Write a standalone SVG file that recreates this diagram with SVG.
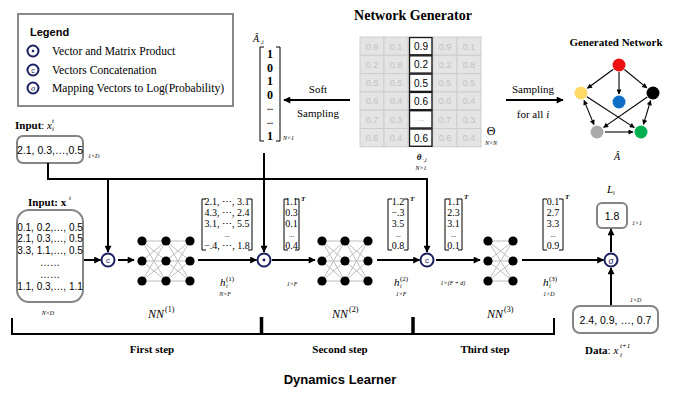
<svg xmlns="http://www.w3.org/2000/svg" width="680" height="396" viewBox="0 0 680 396">
<style>
.serif{font-family:"Liberation Serif","Times New Roman",serif;}
.sans{font-family:"Liberation Sans",Arial,sans-serif;}
.it{font-style:italic;}
.b{font-weight:bold;}
.box{fill:#fff;stroke:#858585;stroke-width:2;}
.ln{fill:none;stroke:#000;stroke-width:2;}
.nnE{stroke:#bdbdbd;stroke-width:1;}
.op{fill:#fff;stroke:#1b2060;stroke-width:2;}
.gcell{fill:#e4e4e4;stroke:#cdcdcd;stroke-width:1;}
.gtxt{fill:#c2c2c2;font-size:9px;}
.wcell{fill:#fff;stroke:#1a1a1a;stroke-width:1.4;}
.brk{fill:none;stroke:#000;stroke-width:1;}
.tiny{font-size:6px;}
.vt{font-size:10px;}
.ge{stroke:#000;stroke-width:1.1;fill:none;}
</style>
<defs>
<marker id="ah" viewBox="0 0 10 10" refX="9" refY="5" markerWidth="8" markerHeight="7" markerUnits="userSpaceOnUse" orient="auto"><path d="M0,0 L10,5 L0,10 z" fill="#000"/></marker>
<marker id="sa" viewBox="0 0 10 10" refX="9" refY="5" markerWidth="6" markerHeight="5" markerUnits="userSpaceOnUse" orient="auto-start-reverse"><path d="M0,0 L10,5 L0,10 z" fill="#000"/></marker>
</defs>

<!-- Legend -->
<g id="legend">
<rect x="18" y="14" width="215" height="92" fill="#fff" stroke="#888" stroke-width="2"/>
<text x="30" y="36" class="sans b" font-size="11">Legend</text>
<circle cx="33" cy="51" r="5.5" class="op"/><circle cx="33" cy="51" r="1.3" fill="#1b2060"/>
<text x="52" y="55" class="serif" font-size="11.6">Vector and Matrix Product</text>
<circle cx="33" cy="70" r="5.5" class="op"/><text x="33" y="72.5" class="sans" font-size="7" text-anchor="middle" fill="#1b2060">c</text>
<text x="52" y="74" class="serif" font-size="11.6">Vectors Concatenation</text>
<circle cx="33" cy="88" r="5.5" class="op"/><text x="33" y="91" class="serif it" font-size="8.5" text-anchor="middle" fill="#1b2060">σ</text>
<text x="52" y="92" class="serif" font-size="11.6">Mapping Vectors to Log(Probability)</text>
</g>

<!-- Network Generator -->
<g id="network-generator">
<text x="413" y="20" class="serif b" font-size="14" text-anchor="middle">Network Generator</text>
<g class="sans">
<rect x="360" y="37" width="24" height="18.3" class="gcell"/><rect x="384" y="37" width="24" height="18.3" class="gcell"/>
<rect x="360" y="55.3" width="24" height="18.3" class="gcell"/><rect x="384" y="55.3" width="24" height="18.3" class="gcell"/>
<rect x="360" y="73.6" width="24" height="18.3" class="gcell"/><rect x="384" y="73.6" width="24" height="18.3" class="gcell"/>
<rect x="360" y="91.9" width="24" height="18.3" class="gcell"/><rect x="384" y="91.9" width="24" height="18.3" class="gcell"/>
<rect x="360" y="110.2" width="24" height="18.3" class="gcell"/><rect x="384" y="110.2" width="24" height="18.3" class="gcell"/>
<rect x="360" y="128.5" width="24" height="18.3" class="gcell"/><rect x="384" y="128.5" width="24" height="18.3" class="gcell"/>
<rect x="433" y="37" width="24" height="18.3" class="gcell"/><rect x="457" y="37" width="24" height="18.3" class="gcell"/>
<rect x="433" y="55.3" width="24" height="18.3" class="gcell"/><rect x="457" y="55.3" width="24" height="18.3" class="gcell"/>
<rect x="433" y="73.6" width="24" height="18.3" class="gcell"/><rect x="457" y="73.6" width="24" height="18.3" class="gcell"/>
<rect x="433" y="91.9" width="24" height="18.3" class="gcell"/><rect x="457" y="91.9" width="24" height="18.3" class="gcell"/>
<rect x="433" y="110.2" width="24" height="18.3" class="gcell"/><rect x="457" y="110.2" width="24" height="18.3" class="gcell"/>
<rect x="433" y="128.5" width="24" height="18.3" class="gcell"/><rect x="457" y="128.5" width="24" height="18.3" class="gcell"/>
<g class="gtxt" text-anchor="middle">
<text x="372" y="49.5">0.9</text><text x="396" y="49.5">0.1</text><text x="445" y="49.5">0.9</text><text x="469" y="49.5">0.1</text>
<text x="372" y="67.8">0.2</text><text x="396" y="67.8">0.8</text><text x="445" y="67.8">0.2</text><text x="469" y="67.8">0.8</text>
<text x="372" y="86.1">0.5</text><text x="396" y="86.1">0.5</text><text x="445" y="86.1">0.5</text><text x="469" y="86.1">0.5</text>
<text x="372" y="104.4">0.6</text><text x="396" y="104.4">0.4</text><text x="445" y="104.4">0.6</text><text x="469" y="104.4">0.4</text>
<text x="372" y="122.7">0.7</text><text x="396" y="122.7">0.3</text><text x="445" y="122.7">0.7</text><text x="469" y="122.7">0.3</text>
<text x="372" y="141">0.6</text><text x="396" y="141">0.4</text><text x="445" y="141">0.6</text><text x="469" y="141">0.4</text>
</g>
<rect x="409.5" y="37.5" width="22.5" height="17.3" class="wcell"/>
<rect x="409.5" y="55.8" width="22.5" height="17.3" class="wcell"/>
<rect x="409.5" y="74.1" width="22.5" height="17.3" class="wcell"/>
<rect x="409.5" y="92.4" width="22.5" height="17.3" class="wcell"/>
<rect x="409.5" y="110.7" width="22.5" height="17.3" class="wcell"/>
<rect x="409.5" y="129" width="22.5" height="17.3" class="wcell"/>
<g font-size="10" text-anchor="middle">
<text x="421" y="50">0.9</text><text x="421" y="68.3">0.2</text><text x="421" y="86.6">0.5</text><text x="421" y="104.9">0.6</text>
<text x="421" y="121" fill="#aaa" font-size="8">...</text><text x="421" y="141.5">0.6</text>
</g>
</g>
<text x="419" y="160" class="serif it b" font-size="9" text-anchor="middle">θ</text><text x="422" y="162" class="serif it" font-size="6">·,i</text>
<text x="421" y="170" class="serif it tiny" text-anchor="middle">N×1</text>
<text x="491" y="135" class="serif" font-size="12" text-anchor="middle">Θ</text>
<text x="491" y="145" class="serif it tiny" text-anchor="middle">N×N</text>
</g>

<!-- A hat column -->
<g id="a-hat-column">
<text x="253" y="42" class="serif it" font-size="10">Â</text><text x="259" y="44" class="serif it" font-size="6">·,i</text>
<path d="M264,47 H260 V141 H264" class="brk"/>
<path d="M276,47 H280 V141 H276" class="brk"/>
<g class="serif b" font-size="12" text-anchor="middle">
<text x="270" y="58">1</text><text x="270" y="72">0</text><text x="270" y="85">1</text><text x="270" y="99">0</text>
<text x="270" y="110" font-size="8">...</text><text x="270" y="124" font-size="8">...</text><text x="270" y="140">1</text>
</g>
<text x="283" y="140" class="serif it tiny">N×1</text>
</g>

<!-- Generated network -->
<g id="generated-network">
<text x="616" y="46" class="serif b" font-size="11" text-anchor="middle">Generated Network</text>
<line x1="613.4" y1="69.2" x2="587.4" y2="88.3" class="ge" marker-end="url(#sa)"/>
<line x1="619" y1="72" x2="619" y2="94" class="ge" marker-end="url(#sa)"/>
<line x1="624.4" y1="69.5" x2="646.8" y2="87.9" class="ge" marker-end="url(#sa)"/>
<line x1="584" y1="100.4" x2="594" y2="124.6" class="ge" marker-start="url(#sa)" marker-end="url(#sa)"/>
<line x1="586.9" y1="96.8" x2="634.3" y2="127.6" class="ge" marker-end="url(#sa)"/>
<line x1="647.3" y1="97" x2="603.6" y2="127.4" class="ge" marker-end="url(#sa)"/>
<line x1="650.6" y1="100.6" x2="643.4" y2="124.4" class="ge" marker-start="url(#sa)" marker-end="url(#sa)"/>
<line x1="605" y1="132" x2="633" y2="132" class="ge" marker-end="url(#sa)"/>
<circle cx="619" cy="65" r="6.5" fill="#ee1111"/>
<circle cx="581" cy="93" r="6.5" fill="#ffd966"/>
<circle cx="619" cy="102" r="6.5" fill="#1070c8"/>
<circle cx="653" cy="93" r="6.5" fill="#000"/>
<circle cx="597" cy="132" r="6.5" fill="#aaaaaa"/>
<circle cx="641" cy="132" r="6.5" fill="#00b050"/>
<text x="617" y="160" class="serif it" font-size="10" text-anchor="middle">Â</text>
</g>

<!-- Inputs -->
<g id="input-xi">
<text x="15" y="129" class="serif b" font-size="11">Input<tspan font-weight="normal">: </tspan><tspan font-weight="normal" font-style="italic">x</tspan></text>
<text x="52" y="131" class="serif it" font-size="7">i</text><text x="52" y="123" class="serif it" font-size="7">t</text>
<rect x="17" y="136" width="66" height="27" rx="6" class="box"/>
<text x="50" y="154" class="sans" font-size="10.5" text-anchor="middle">2.1, 0.3,…,0.5</text>
<text x="88" y="158" class="serif it tiny">1×D</text>
</g>
<g id="input-x">
<text x="28" y="206" class="serif b" font-size="11">Input: x</text><text x="69" y="200" class="serif it" font-size="7">t</text>
<rect x="17" y="210" width="66" height="92" rx="12" class="box"/>
<g class="sans" font-size="10" text-anchor="middle">
<text x="50" y="231">0.1, 0.2,…, 0.5</text>
<text x="50" y="242">2.1, 0.3,…, 0.5</text>
<text x="50" y="254">3.3, 1.1,…, 0.5</text>
<text x="50" y="266">……</text>
<text x="50" y="278">……</text>
<text x="50" y="290">1.1, 0.3,…, 1.1</text>
</g>
<text x="48" y="315" class="serif it tiny" text-anchor="middle">N×D</text>
</g>

<!-- Operators -->
<g id="concat-1"><circle cx="108" cy="260" r="6.5" class="op"/><text x="108" y="263" class="sans" font-size="8" text-anchor="middle" fill="#1b2060">c</text></g>
<g id="dot-product"><circle cx="264" cy="260" r="6.5" class="op"/><circle cx="264" cy="260" r="1.4" fill="#1b2060"/></g>
<g id="concat-2"><circle cx="427" cy="260" r="6.5" class="op"/><text x="427" y="263" class="sans" font-size="8" text-anchor="middle" fill="#1b2060">c</text></g>
<g id="sigma"><circle cx="611" cy="260" r="6.5" class="op"/><text x="611" y="263.5" class="serif it" font-size="10" text-anchor="middle" fill="#1b2060">σ</text></g>

<!-- NN1 -->
<g id="nn1">
<g class="nnE">
<line x1="142" y1="241" x2="166" y2="241"/><line x1="142" y1="241" x2="166" y2="261"/><line x1="142" y1="241" x2="166" y2="281"/>
<line x1="142" y1="261" x2="166" y2="241"/><line x1="142" y1="261" x2="166" y2="261"/><line x1="142" y1="261" x2="166" y2="281"/>
<line x1="142" y1="281" x2="166" y2="241"/><line x1="142" y1="281" x2="166" y2="261"/><line x1="142" y1="281" x2="166" y2="281"/>
<line x1="166" y1="241" x2="190" y2="241"/><line x1="166" y1="241" x2="190" y2="261"/><line x1="166" y1="241" x2="190" y2="281"/>
<line x1="166" y1="261" x2="190" y2="241"/><line x1="166" y1="261" x2="190" y2="261"/><line x1="166" y1="261" x2="190" y2="281"/>
<line x1="166" y1="281" x2="190" y2="241"/><line x1="166" y1="281" x2="190" y2="261"/><line x1="166" y1="281" x2="190" y2="281"/>
</g>
<circle cx="142" cy="241" r="4.6"/><circle cx="142" cy="261" r="4.6"/><circle cx="142" cy="281" r="4.6"/>
<circle cx="166" cy="241" r="4.6"/><circle cx="166" cy="261" r="4.6"/><circle cx="166" cy="281" r="4.6"/>
<circle cx="190" cy="241" r="4.6"/><circle cx="190" cy="261" r="4.6"/><circle cx="190" cy="281" r="4.6"/>
<text x="148" y="318" class="serif it" font-size="12">NN</text><text x="165" y="312" class="serif" font-size="8">(1)</text>
</g>
<!-- NN2 -->
<g id="nn2">
<g class="nnE">
<line x1="322" y1="241" x2="345" y2="241"/><line x1="322" y1="241" x2="345" y2="261"/><line x1="322" y1="241" x2="345" y2="281"/>
<line x1="322" y1="261" x2="345" y2="241"/><line x1="322" y1="261" x2="345" y2="261"/><line x1="322" y1="261" x2="345" y2="281"/>
<line x1="322" y1="281" x2="345" y2="241"/><line x1="322" y1="281" x2="345" y2="261"/><line x1="322" y1="281" x2="345" y2="281"/>
<line x1="345" y1="241" x2="368" y2="241"/><line x1="345" y1="241" x2="368" y2="261"/><line x1="345" y1="241" x2="368" y2="281"/>
<line x1="345" y1="261" x2="368" y2="241"/><line x1="345" y1="261" x2="368" y2="261"/><line x1="345" y1="261" x2="368" y2="281"/>
<line x1="345" y1="281" x2="368" y2="241"/><line x1="345" y1="281" x2="368" y2="261"/><line x1="345" y1="281" x2="368" y2="281"/>
</g>
<circle cx="322" cy="241" r="4.6"/><circle cx="322" cy="261" r="4.6"/><circle cx="322" cy="281" r="4.6"/>
<circle cx="345" cy="241" r="4.6"/><circle cx="345" cy="261" r="4.6"/><circle cx="345" cy="281" r="4.6"/>
<circle cx="368" cy="241" r="4.6"/><circle cx="368" cy="261" r="4.6"/><circle cx="368" cy="281" r="4.6"/>
<text x="332" y="318" class="serif it" font-size="12">NN</text><text x="349" y="312" class="serif" font-size="8">(2)</text>
</g>
<!-- NN3 -->
<g id="nn3">
<g class="nnE">
<line x1="488" y1="241" x2="513" y2="241"/><line x1="488" y1="241" x2="513" y2="261"/><line x1="488" y1="241" x2="513" y2="281"/>
<line x1="488" y1="261" x2="513" y2="241"/><line x1="488" y1="261" x2="513" y2="261"/><line x1="488" y1="261" x2="513" y2="281"/>
<line x1="488" y1="281" x2="513" y2="241"/><line x1="488" y1="281" x2="513" y2="261"/><line x1="488" y1="281" x2="513" y2="281"/>
</g>
<circle cx="488" cy="241" r="4.6"/><circle cx="488" cy="261" r="4.6"/><circle cx="488" cy="281" r="4.6"/>
<circle cx="513" cy="241" r="4.6"/><circle cx="513" cy="261" r="4.6"/><circle cx="513" cy="281" r="4.6"/>
<text x="487" y="318" class="serif it" font-size="12">NN</text><text x="504" y="312" class="serif" font-size="8">(3)</text>
</g>

<!-- h1 matrix -->
<g id="h1">
<path d="M206,199 H202 V250 H206" class="brk"/><path d="M248,199 H252 V250 H248" class="brk"/>
<g class="serif vt" text-anchor="middle">
<text x="227" y="205">2.1, ⋯, 3.1</text><text x="227" y="216">4.3, ⋯, 2.4</text><text x="227" y="227">3.1, ⋯, 5.5</text>
<text x="227" y="237" font-size="7">...</text><text x="227" y="249">−.4, ⋯, 1.8</text>
</g>
<text x="220" y="286" class="serif it" font-size="11">h</text><text x="226" y="281" class="serif" font-size="7">(1)</text><text x="226" y="288" class="serif it" font-size="6">i</text>
<text x="225" y="296" class="serif it tiny" text-anchor="middle">N×F</text>
</g>
<!-- vector after dot -->
<g id="vec-dot">
<path d="M288,199 H284 V250 H288" class="brk"/><path d="M295,199 H299 V250 H295" class="brk"/>
<g class="serif vt" text-anchor="middle">
<text x="291.5" y="205">1.1</text><text x="291.5" y="216">0.3</text><text x="291.5" y="227">0.1</text><text x="291.5" y="237" font-size="7">...</text><text x="291.5" y="249">0.4</text>
</g>
<text x="301" y="201" class="serif it b" font-size="7">T</text>
<text x="292" y="286" class="serif it tiny" text-anchor="middle">1×F</text>
</g>
<!-- h2 -->
<g id="h2">
<path d="M392,199 H388 V250 H392" class="brk"/><path d="M404,199 H408 V250 H404" class="brk"/>
<g class="serif vt" text-anchor="middle">
<text x="398" y="205">1.2</text><text x="398" y="216">−.3</text><text x="398" y="227">3.5</text><text x="398" y="237" font-size="7">...</text><text x="398" y="249">0.8</text>
</g>
<text x="410" y="201" class="serif it b" font-size="7">T</text>
<text x="394" y="286" class="serif it" font-size="11">h</text><text x="400" y="281" class="serif" font-size="7">(2)</text><text x="400" y="288" class="serif it" font-size="6">i</text>
<text x="401" y="296" class="serif it tiny" text-anchor="middle">1×F</text>
</g>
<!-- vector after concat -->
<g id="vec-concat">
<path d="M449,199 H445 V250 H449" class="brk"/><path d="M458,199 H462 V250 H458" class="brk"/>
<g class="serif vt" text-anchor="middle">
<text x="453.5" y="205">1.1</text><text x="453.5" y="216">2.3</text><text x="453.5" y="227">3.1</text><text x="453.5" y="237" font-size="7">...</text><text x="453.5" y="249">0.1</text>
</g>
<text x="464" y="199" class="serif it b" font-size="7">T</text>
<text x="453" y="285" class="serif it tiny" text-anchor="middle">1×(F + d)</text>
</g>
<!-- h3 -->
<g id="h3">
<path d="M547,199 H543 V250 H547" class="brk"/><path d="M559,199 H563 V250 H559" class="brk"/>
<g class="serif vt" text-anchor="middle">
<text x="553" y="205">0.1</text><text x="553" y="216">2.7</text><text x="553" y="227">3.3</text><text x="553" y="237" font-size="7">...</text><text x="553" y="249">0.9</text>
</g>
<text x="565" y="199" class="serif it b" font-size="7">T</text>
<text x="543" y="286" class="serif it" font-size="11">h</text><text x="549" y="281" class="serif" font-size="7">(3)</text><text x="549" y="288" class="serif it" font-size="6">i</text>
<text x="549" y="296" class="serif it tiny" text-anchor="middle">1×D</text>
</g>

<!-- Output L -->
<g id="loss">
<text x="607" y="193" class="serif it" font-size="11">L</text><text x="613" y="195" class="serif it" font-size="6">i</text>
<rect x="597" y="203" width="30" height="25" rx="5" class="box"/>
<text x="612" y="220" class="sans" font-size="10.5" text-anchor="middle">1.8</text>
<text x="632" y="225" class="serif it tiny">1×1</text>
</g>
<!-- Data -->
<g id="data">
<rect x="573" y="306" width="85" height="27" rx="7" class="box"/>
<text x="615.5" y="324" class="sans" font-size="10.5" text-anchor="middle">2.4, 0.9, …, 0.7</text>
<text x="630" y="302" class="serif it tiny">1×D</text>
<text x="585" y="354" class="serif b" font-size="11">Data<tspan font-weight="normal">: </tspan><tspan font-weight="normal" font-style="italic">x</tspan></text>
<text x="620" y="357" class="serif it" font-size="7">i</text><text x="620" y="348" class="serif it" font-size="7">t+1</text>
</g>

<!-- Connectors -->
<g id="connectors">
<line x1="350" y1="100" x2="284" y2="100" class="ln" marker-end="url(#ah)"/>
<text x="318" y="93" class="serif" font-size="11" text-anchor="middle">Soft</text>
<text x="318" y="117" class="serif" font-size="11" text-anchor="middle">Sampling</text>
<line x1="506" y1="100" x2="563" y2="100" class="ln" marker-end="url(#ah)"/>
<text x="533" y="93" class="serif" font-size="11" text-anchor="middle">Sampling</text>
<text x="533" y="118" class="serif" font-size="11" text-anchor="middle">for all <tspan font-style="italic">i</tspan></text>
<path d="M48,163 V179 H427 V252" class="ln" marker-end="url(#ah)"/>
<line x1="108" y1="179" x2="108" y2="252" class="ln" marker-end="url(#ah)"/>
<line x1="264" y1="153" x2="264" y2="252" class="ln" marker-end="url(#ah)"/>
<line x1="84" y1="260" x2="100.5" y2="260" class="ln" marker-end="url(#ah)"/>
<line x1="118" y1="260" x2="134" y2="260" class="ln" marker-end="url(#ah)"/>
<line x1="198" y1="260" x2="256.5" y2="260" class="ln" marker-end="url(#ah)"/>
<line x1="272" y1="260" x2="315" y2="260" class="ln" marker-end="url(#ah)"/>
<line x1="377" y1="260" x2="419.5" y2="260" class="ln" marker-end="url(#ah)"/>
<line x1="436" y1="260" x2="480" y2="260" class="ln" marker-end="url(#ah)"/>
<line x1="522" y1="260" x2="603.5" y2="260" class="ln" marker-end="url(#ah)"/>
<line x1="611" y1="252" x2="611" y2="229" class="ln" marker-end="url(#ah)"/>
<line x1="611" y1="305" x2="611" y2="268" class="ln" marker-end="url(#ah)"/>
</g>

<!-- Steps -->
<g id="steps">
<path d="M12,318 V334 H554 V318" fill="none" stroke="#000" stroke-width="2"/>
<line x1="261.5" y1="317" x2="261.5" y2="335" stroke="#000" stroke-width="3.5"/>
<line x1="413" y1="317" x2="413" y2="335" stroke="#000" stroke-width="3.5"/>
<text x="152" y="353" class="serif b" font-size="11" text-anchor="middle">First step</text>
<text x="340" y="353" class="serif b" font-size="11" text-anchor="middle">Second step</text>
<text x="485" y="353" class="serif b" font-size="11" text-anchor="middle">Third step</text>
<text x="340" y="384" class="sans b" font-size="13" text-anchor="middle">Dynamics Learner</text>
</g>
</svg>
